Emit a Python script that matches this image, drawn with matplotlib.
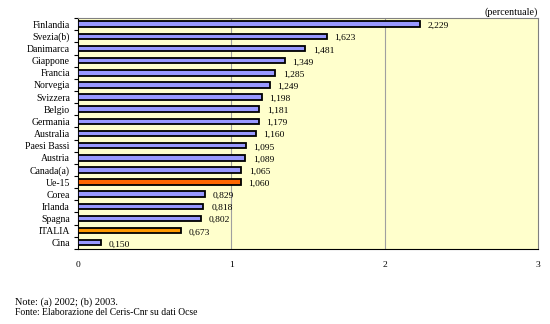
import matplotlib
matplotlib.use('Agg')
import matplotlib.pyplot as plt
import numpy as np

# countries, top to bottom
countries = ['Finlandia', 'Svezia(b)', 'Danimarca', 'Giappone', 'Francia', 'Norvegia',
             'Svizzera', 'Belgio', 'Germania', 'Australia', 'Paesi Bassi', 'Austria',
             'Canada(a)', 'Ue-15', 'Corea', 'Irlanda', 'Spagna', 'ITALIA', 'Cina']
values = [2.229, 1.623, 1.481, 1.349, 1.285, 1.249, 1.198, 1.181, 1.179, 1.160,
          1.095, 1.089, 1.065, 1.060, 0.829, 0.818, 0.802, 0.673, 0.150]
x_ticks = [0, 1, 2, 3]

plt.rcParams['font.family'] = ['Liberation Serif', 'DejaVu Serif']

colors = []
for c in countries:
    if c == 'Ue-15':
        colors.append('#FF6600')
    elif c == 'ITALIA':
        colors.append('#FF9900')
    else:
        colors.append('#9999FF')

fig = plt.figure(figsize=(5.5, 3.24), dpi=100)
ax = fig.add_axes([0.142, 0.232, 0.836, 0.712])
ax.set_facecolor('#FFFFCC')

y = np.arange(len(countries))
ax.barh(y, values, height=0.45, color=colors, edgecolor='black', linewidth=1.3, zorder=3)

for yi, v in zip(y, values):
    ax.text(v + 0.05, yi + 0.15, f'{v:.3f}'.replace('.', ','), fontsize=6.8,
            va='center', ha='left', zorder=4)

ax.set_xlim(0, 3)
ax.set_ylim(len(countries) - 0.5, -0.5)
ax.set_xticks(x_ticks)
ax.set_xticklabels([str(t) for t in x_ticks], fontsize=6.8)
ax.set_yticks(y)
ax.set_yticklabels(countries, fontsize=7)
ax.set_yticks(np.arange(len(countries) + 1) - 0.5, minor=True)
ax.tick_params(axis='y', which='major', length=0, pad=6)
ax.tick_params(axis='y', which='minor', length=3, width=0.8, direction='out')
ax.tick_params(axis='x', length=0, pad=9)

for gx in [1, 2]:
    ax.axvline(gx, color='#A0A0A0', linewidth=0.8, zorder=1)

for side in ['top', 'right']:
    ax.spines[side].set_color('#808080')
    ax.spines[side].set_linewidth(0.8)
ax.spines['left'].set_linewidth(0.8)
ax.spines['bottom'].set_linewidth(0.8)

fig.text(0.978, 0.962, '(percentuale)', ha='right', va='center', fontsize=7.2)
fig.text(0.027, 0.068, 'Note: (a) 2002; (b) 2003.', ha='left', va='center', fontsize=7.4)
fig.text(0.027, 0.034, 'Fonte: Elaborazione del Ceris-Cnr su dati Ocse', ha='left',
         va='center', fontsize=6.9)

fig.savefig('out.png', dpi=100)
